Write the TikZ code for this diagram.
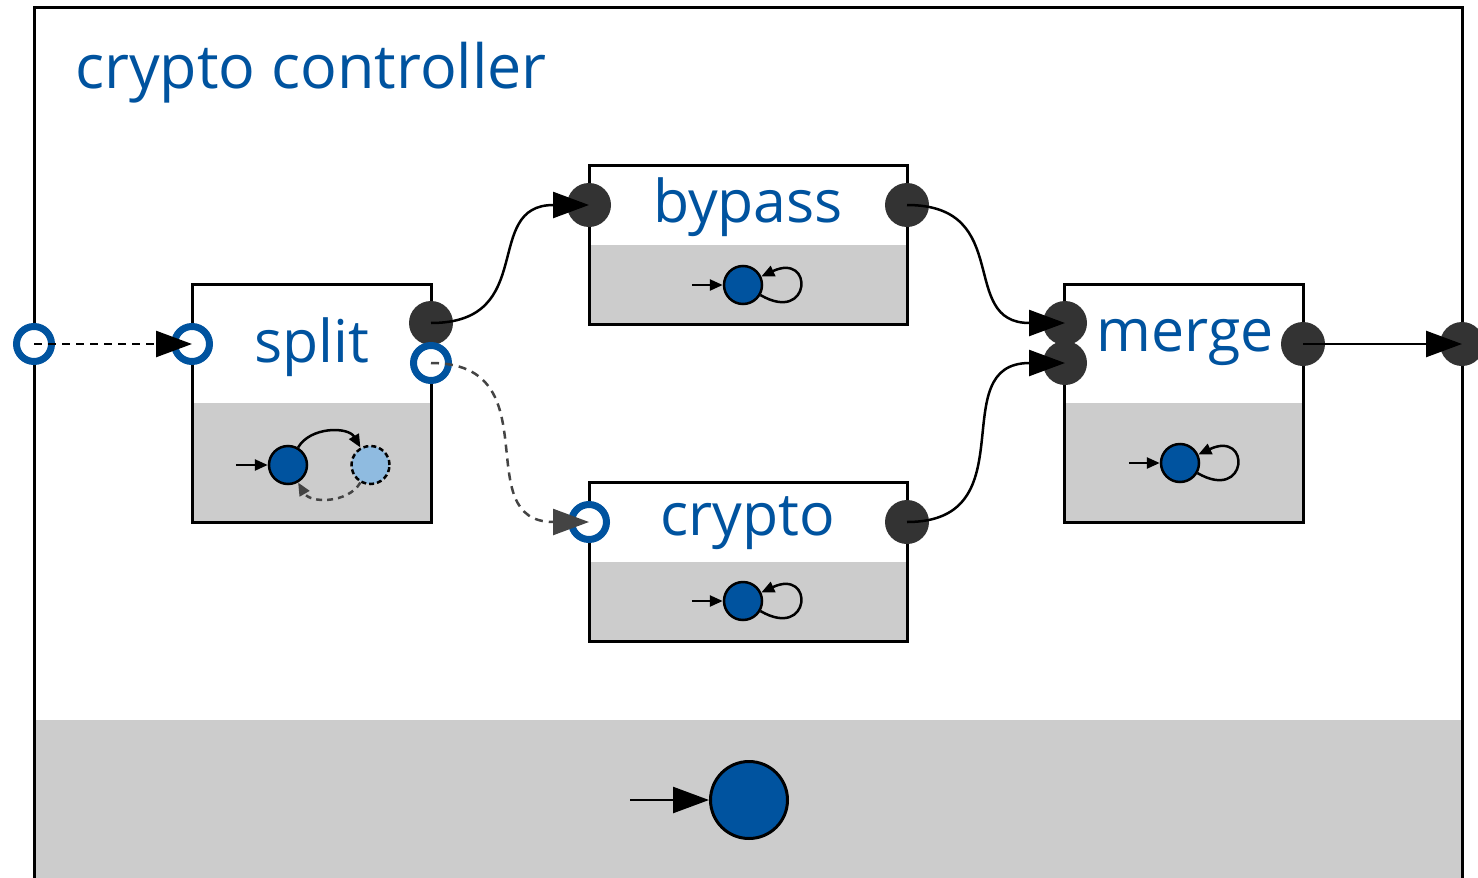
\documentclass[tikz,border=0pt]{standalone}
\usepackage{fontspec}
\setmainfont{Open Sans}
\usetikzlibrary{arrows.meta,positioning}
\definecolor{ctrlblue}{RGB}{0,83,159}
\definecolor{paleblue}{RGB}{143,187,224}
\definecolor{bandgray}{RGB}{204,204,204}
\definecolor{portgray}{RGB}{51,51,51}
\definecolor{wiregray}{RGB}{68,68,68}

\tikzset{
  block/.style={draw, line width=3pt, fill=white, inner sep=0pt, minimum width=239pt,
    path picture={\fill[bandgray] (path picture bounding box.south west) rectangle (path picture bounding box.east);}},
  title/.style={text=ctrlblue, font=\fontsize{59pt}{70pt}\selectfont, anchor=base, inner sep=0pt},
  inport/.style={circle, draw=ctrlblue, line width=7pt, fill=white, minimum size=35pt, inner sep=0pt},
  outport/.style={circle, fill=portgray, minimum size=44pt, inner sep=0pt},
  wire/.style={line width=2.5pt, -{Triangle[length=36pt,width=26pt]}},
  dashwire/.style={wire, dash pattern=on 8pt off 6pt},
  state/.style={circle, draw, line width=2.5pt, fill=ctrlblue, minimum size=38pt, inner sep=0pt},
  mini/.style={line width=2.5pt, -{Triangle[length=13pt,width=11pt]}},
}

\begin{document}
\begin{tikzpicture}[x=1pt,y=-1pt]
   \useasboundingbox (0,0) rectangle (1478,878);
   \clip (0,0) rectangle (1478,878);

   \fill[white] (34,7) rectangle (1462,900);
   \fill[bandgray] (34,720) rectangle (1462,900);
   \draw[line width=3pt] (34,900) -- (34,7) -- (1462,7) -- (1462,900);
   \node[title, anchor=base west, font=\fontsize{61pt}{72pt}\selectfont] (ctrl) at (75,88) {crypto controller};

   \node[block, minimum height=238pt] (split) at (311.5,403) {};
   \node[block, minimum width=318pt, minimum height=159pt] (bypass) at (748,244.5) {};
   \node[block, minimum width=318pt, minimum height=159pt] (crypto) at (748,562) {};
   \node[block, minimum height=238pt] (merge) at (1184,403) {};

   \node[title] (split-label) at (311.5,362) {split};
   \node[title] (bypass-label) at (748,222) {bypass};
   \node[title] (crypto-label) at (748,535) {crypto};
   \node[title] (merge-label) at (1185,351) {merge};

   \node[inport] (ctrl-in) at (34,344) {};
   \node[outport] (ctrl-out) at (1462,344) {};
   \node[inport] (split-in) at (192,344) {};
   \node[outport] (split-out) at (431,323) {};
   \node[inport] (split-alt) at (431,363) {};
   \node[outport] (bypass-in) at (589,205) {};
   \node[outport] (bypass-out) at (907,205) {};
   \node[inport] (crypto-in) at (589,522) {};
   \node[outport] (crypto-out) at (907,522) {};
   \node[outport] (merge-in1) at (1065,323) {};
   \node[outport] (merge-in2) at (1065,363) {};
   \node[outport] (merge-out) at (1303,344) {};

   \draw[dashwire] (ctrl-in.center) -- (split-in.center);
   \draw[wire] (split-out.center) to[out=0,in=180,looseness=1.4] (bypass-in.center);
   \draw[dashwire, wiregray] (split-alt.center) to[out=0,in=180,looseness=1.4] (crypto-in.center);
   \draw[wire] (bypass-out.center) to[out=0,in=180,looseness=1.4] (merge-in1.center);
   \draw[wire] (crypto-out.center) to[out=0,in=180,looseness=1.4] (merge-in2.center);
   \draw[wire] (merge-out.center) -- (ctrl-out.center);

   \node[state] (split-s1) at (288,465) {};
   \node[state, fill=paleblue, dash pattern=on 5pt off 3pt, right=42pt of split-s1] (split-s2) {};
   \coordinate[left=32pt of split-s1] (split-init);
   \draw[mini] (split-init) -- (split-s1);
   \draw[mini] (split-s1) to[bend left=60] (split-s2);
   \draw[mini, wiregray, dash pattern=on 6pt off 5pt] (split-s2) to[bend left=60] (split-s1);

   \foreach \n/\x/\y in {bypass/743/285, crypto/743/601, merge/1180/463} {
      \node[state] (\n-s) at (\x,\y) {};
      \coordinate[left=31pt of \n-s] (\n-init);
      \draw[mini] (\n-init) -- (\n-s);
      \draw[mini] (\n-s) to[out=-30,in=25,looseness=8,min distance=50pt] (\n-s);
   }

   \node[state, line width=3pt, minimum size=77pt] (ctrl-s) at (749,800) {};
   \coordinate[left=79pt of ctrl-s] (ctrl-init);
   \draw[wire] (ctrl-init) -- (ctrl-s);
\end{tikzpicture}
\end{document}
